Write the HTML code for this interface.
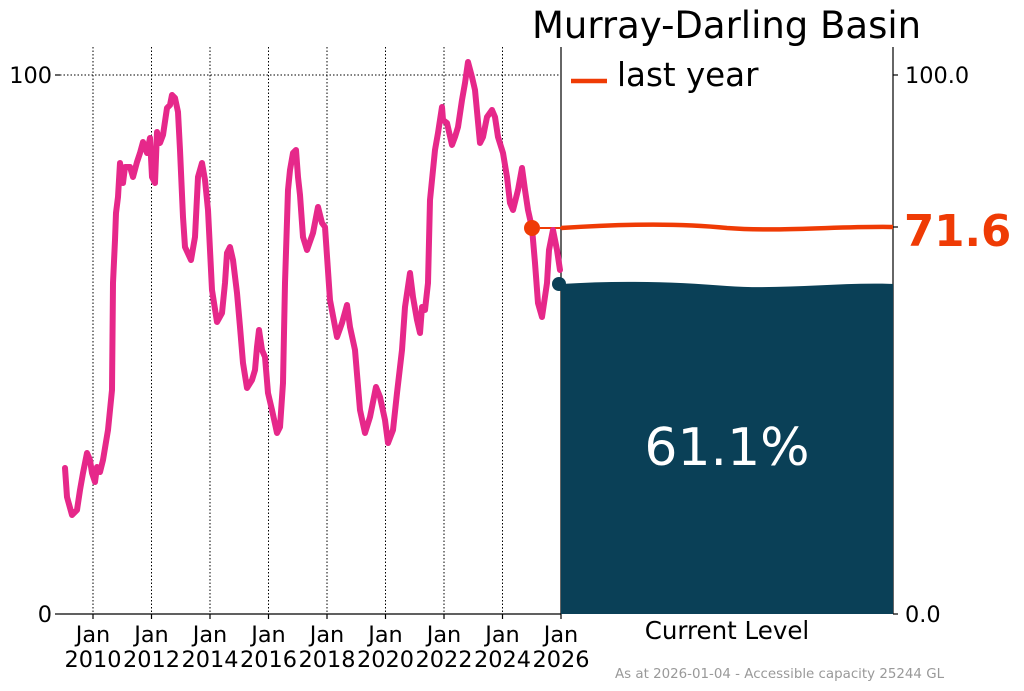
<!DOCTYPE html>
<html><head><meta charset="utf-8"><style>
body{margin:0;background:#fff}
svg{display:block;font-family:"DejaVu Sans","Liberation Sans",sans-serif}
</style></head><body>
<svg width="1024" height="691" viewBox="0 0 1024 691" xmlns="http://www.w3.org/2000/svg">
<rect width="1024" height="691" fill="#fff"/>
<g stroke="#000" stroke-width="1" stroke-dasharray="1.5,2">
<line x1="60" y1="75" x2="561" y2="75"/>
<line x1="93" y1="47" x2="93" y2="614"/>
<line x1="151.5" y1="47" x2="151.5" y2="614"/>
<line x1="210" y1="47" x2="210" y2="614"/>
<line x1="268.5" y1="47" x2="268.5" y2="614"/>
<line x1="327" y1="47" x2="327" y2="614"/>
<line x1="385.5" y1="47" x2="385.5" y2="614"/>
<line x1="444" y1="47" x2="444" y2="614"/>
<line x1="502.5" y1="47" x2="502.5" y2="614"/>
</g>
<g stroke="#000" stroke-width="1.2">
<line x1="60" y1="614" x2="561" y2="614"/>
<line x1="561" y1="47" x2="561" y2="614"/>
<line x1="893" y1="47" x2="893" y2="614"/>
<line x1="55" y1="75" x2="60" y2="75"/><line x1="55" y1="614" x2="60" y2="614"/>
<line x1="893" y1="75" x2="898" y2="75"/><line x1="893" y1="614" x2="898" y2="614"/><line x1="893" y1="227" x2="898" y2="227"/>
<line x1="93" y1="614" x2="93" y2="619"/><line x1="151.5" y1="614" x2="151.5" y2="619"/><line x1="210" y1="614" x2="210" y2="619"/><line x1="268.5" y1="614" x2="268.5" y2="619"/><line x1="327" y1="614" x2="327" y2="619"/><line x1="385.5" y1="614" x2="385.5" y2="619"/><line x1="444" y1="614" x2="444" y2="619"/><line x1="502.5" y1="614" x2="502.5" y2="619"/><line x1="561" y1="614" x2="561" y2="619"/>
</g>
<path d="M561,284 C620,280 680,282 727,286 C780,290 840,282 893,284 L893,614 L561,614 Z" fill="#0a4057"/>
<circle cx="559" cy="284" r="7" fill="#0a4057"/>
<path d="M561,228 C620,224 680,223 727,228 C780,232 840,226 893,227" fill="none" stroke="#ef3b05" stroke-width="4.5"/>
<line x1="540" y1="228" x2="561" y2="228" stroke="#ef3b05" stroke-width="2"/>
<polyline fill="none" stroke="#e6288a" stroke-width="6" stroke-linejoin="round" stroke-linecap="round" points="65,468 67,497 72,515 77,510 80,490 83,473 87,453 90,460 92,473 95,482 97,467 100,472 103,460 108,430 112,390 113,283 115,240 116,213 118,197 120,163 123,183 125,167 130,167 133,177 137,162 140,153 143,142 147,153 150,138 152,177 155,183 157,132 160,143 163,135 167,108 170,105 172,95 175,98 178,112 180,150 183,217 185,247 191,260 195,237 198,177 202,163 205,180 208,210 212,290 217,322 222,313 225,283 227,253 230,247 233,260 237,293 240,327 243,363 247,388 252,380 255,370 257,347 259,330 262,350 265,357 268,393 272,410 277,433 280,427 283,383 285,283 288,190 290,170 293,153 296,150 298,177 300,195 303,237 307,250 313,233 318,207 322,223 325,227 330,300 337,337 342,323 347,305 350,327 355,350 360,410 365,433 370,417 376,387 380,397 385,420 388,443 393,430 397,393 402,350 405,307 410,273 413,297 417,320 420,333 422,307 425,310 428,283 430,200 435,150 438,133 442,107 443,120 447,123 452,145 455,137 458,127 462,100 465,83 468,62 472,77 475,90 480,143 483,137 487,117 492,110 495,117 498,137 503,153 507,177 510,203 513,210 518,190 522,168 525,190 528,210 532,228 535,263 538,303 542,317 547,283 549,250 553,230 557,250 560,270"/>
<circle cx="532" cy="228" r="8" fill="#ef3b05"/>
<line x1="571" y1="81" x2="607" y2="81" stroke="#ef3b05" stroke-width="4.5"/>
<g font-size="22.4" fill="#000">
<text x="52" y="83" text-anchor="end">100</text>
<text x="52" y="622" text-anchor="end">0</text>
<text x="905" y="83">100.0</text>
<text x="905" y="622">0.0</text>
<g text-anchor="middle">
<text x="93" y="642">Jan</text><text x="93" y="667">2010</text>
<text x="151.5" y="642">Jan</text><text x="151.5" y="667">2012</text>
<text x="210" y="642">Jan</text><text x="210" y="667">2014</text>
<text x="268.5" y="642">Jan</text><text x="268.5" y="667">2016</text>
<text x="327" y="642">Jan</text><text x="327" y="667">2018</text>
<text x="385.5" y="642">Jan</text><text x="385.5" y="667">2020</text>
<text x="444" y="642">Jan</text><text x="444" y="667">2022</text>
<text x="502.5" y="642">Jan</text><text x="502.5" y="667">2024</text>
<text x="561" y="642">Jan</text><text x="561" y="667">2026</text>
<text x="727" y="639" font-size="24.5">Current Level</text>
</g>
</g>
<text x="532" y="38" font-size="37" fill="#000">Murray-Darling Basin</text>
<text x="617" y="86" font-size="32.5" fill="#000">last year</text>
<text x="904" y="246" font-size="43.5" font-weight="bold" fill="#ef3b05">71.6</text>
<text x="727" y="465" font-size="52" fill="#fff" text-anchor="middle">61.1%</text>
<text x="615" y="678" font-size="13.4" fill="#999">As at 2026-01-04 - Accessible capacity 25244 GL</text>
</svg>
</body></html>
